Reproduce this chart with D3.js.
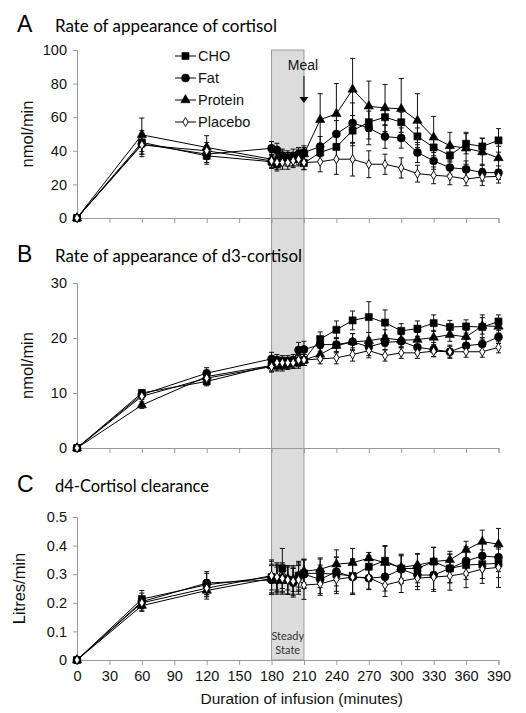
<!DOCTYPE html>
<html><head><meta charset="utf-8">
<script src="https://cdn.jsdelivr.net/npm/d3@7"></script>
<style>body{margin:0;background:#fff}svg{display:block}</style>
</head><body>
<script>
// ---- data ----
const times = [0,60,120,180,185,190,195,200,205,210,225,240,255,270,285,300,315,330,345,360,375,390];
const seriesNames = ["CHO","Fat","Protein","Placebo"];
const xTicks = [0,30,60,90,120,150,180,210,240,270,300,330,360,390];

// Panel A: rate of appearance of cortisol (nmol/min)
const aCHO     = [0,45,37,33.5,32,35,35,35,36,32.7,39,42.3,52,57,60,57,48.6,42,37.3,44.2,42.6,46.2];
const aFat     = [0,44,38,41.5,40.5,37,36,37,38,39,42.5,50,56.5,53.6,48.5,47.6,39,34,30,29,27,27];
const aProtein = [0,49.5,42,35,34,36,35,35,37,38,58.5,62,76.5,66.5,65.5,65,58,48,43,41.5,39.3,35.7];
const aPlacebo = [0,43.5,40,34,33,33,33,34,35,33,33.5,35,35,32,32,29.8,26.4,25.4,24.8,23.2,24.4,24.8];
const aCHOse     = [0,7,5,4,4,4,4,4,4,4,5,8,9,10,5,6,5,5,4,6,5,7];
const aFatse     = [0,6,5,4,4,4,4,4,4,4,6,8,12,10,7,6,6,5,4,5,5,4];
const aProteinse = [0,10,7,4,4,4,4,4,4,4,15.5,18,18.5,15,14,18,16,12.5,8,9.5,8,7];
const aPlacebose = [0,7,5,4,4,4,4,4,4,4,6,9,10,8,6,6,5,5,5,4,5,4];
const aTicks = [0,20,40,60,80,100];

// Panel B: rate of appearance of d3-cortisol (nmol/min)
const bCHO     = [0,10,12.1,15,15,15.3,15.3,15.5,15.8,16,19.8,21.5,23.2,23.8,22.8,21.3,21.7,22.7,22,22.1,22,23];
const bFat     = [0,9.7,13.6,16.2,16,15.8,15.8,16,17.8,17.9,18.8,18.8,19.3,18.4,19.2,19.4,18.3,17.9,17.5,18.6,18.9,20.2];
const bProtein = [0,7.8,13,15,15.2,15,15.3,15.5,15.5,16,17,18.6,19.3,19.5,20,19.6,19.7,20.1,20.6,20.2,22.2,22.1];
const bPlacebo = [0,9.4,12.7,14.8,15.5,15.5,15.5,15.5,16,16,16.2,16.4,17,17.7,16.8,17.3,17.3,17.6,17.5,17.5,17.5,18.3];
const bCHOse     = [0,0.6,0.8,1,1,1,1,1,1,1,1.3,1.6,1.7,2.8,2.3,1.3,1.4,1.5,1.2,1.2,2.2,1.2];
const bFatse     = [0,0.6,1.0,1.2,1,1,1,1,1.4,1.5,1.2,1.3,1.5,1.6,1.3,1.2,1.2,1.3,1.2,1.2,1.2,1.2];
const bProteinse = [0,0.6,0.9,1,1,1,1,1,1,1,1.1,1.3,1.5,1.5,1.5,1.2,1.3,1.3,1.2,1.2,1.5,1.2];
const bPlacebose = [0,0.6,0.8,1,1,1,1,1,1,1,0.9,1.1,1.2,1.3,1,1,1,1,1,1,1,1];
const bTicks = [0,10,20,30];

// Panel C: d4-cortisol clearance (Litres/min)
const cCHO     = [0,0.213,0.263,0.29,0.285,0.32,0.28,0.28,0.295,0.303,0.303,0.30,0.294,0.326,0.347,0.32,0.32,0.344,0.32,0.332,0.335,0.338];
const cFat     = [0,0.204,0.269,0.28,0.28,0.28,0.28,0.27,0.29,0.30,0.282,0.309,0.29,0.286,0.291,0.317,0.297,0.297,0.32,0.346,0.364,0.359];
const cProtein = [0,0.19,0.243,0.285,0.285,0.29,0.285,0.28,0.295,0.31,0.317,0.335,0.34,0.356,0.34,0.324,0.332,0.344,0.35,0.385,0.414,0.405];
const cPlacebo = [0,0.2,0.251,0.295,0.29,0.285,0.28,0.275,0.28,0.262,0.266,0.282,0.29,0.288,0.262,0.276,0.286,0.29,0.294,0.303,0.318,0.324];
const cCHOse     = [0,0.03,0.04,0.06,0.05,0.07,0.05,0.05,0.05,0.05,0.05,0.06,0.06,0.04,0.05,0.05,0.05,0.05,0.05,0.05,0.05,0.05];
const cFatse     = [0,0.03,0.04,0.05,0.05,0.05,0.05,0.05,0.05,0.05,0.05,0.05,0.06,0.04,0.05,0.05,0.04,0.05,0.05,0.05,0.05,0.05];
const cProteinse = [0,0.02,0.03,0.05,0.04,0.05,0.04,0.04,0.04,0.04,0.04,0.05,0.05,0.02,0.06,0.04,0.04,0.05,0.03,0.03,0.04,0.055];
const cPlacebose = [0,0.02,0.03,0.05,0.05,0.05,0.05,0.05,0.05,0.05,0.04,0.05,0.06,0.04,0.04,0.04,0.04,0.05,0.05,0.05,0.05,0.07];
const cTicks = [0,0.1,0.2,0.3,0.4,0.5];

const steadyState = [180,210];
const mealTime = 210;

// ---- layout ----
const W = 526, H = 713;
const svg = d3.select("body").append("svg").attr("width",W).attr("height",H);
const x = d3.scaleLinear().domain([0,390]).range([77,498.5]);
const numFont = "Arial, 'Liberation Sans', Helvetica, sans-serif";
const titleFont = "Lato, 'Open Sans', sans-serif";

const panels = [
  {letter:"A", title:"Rate of appearance of cortisol", titleW:222, base:32, top:50, bottom:218, max:100, ticks:aTicks, fmt:d3.format("d"), ylab:"nmol/min", ylabX:33,
   vals:[aCHO,aFat,aProtein,aPlacebo], se:[aCHOse,aFatse,aProteinse,aPlacebose]},
  {letter:"B", title:"Rate of appearance of d3-cortisol", titleW:247, base:262, top:283, bottom:448, max:30, ticks:bTicks, fmt:d3.format("d"), ylab:"nmol/min", ylabX:33,
   vals:[bCHO,bFat,bProtein,bPlacebo], se:[bCHOse,bFatse,bProteinse,bPlacebose]},
  {letter:"C", title:"d4-Cortisol clearance", titleW:154, base:492, top:517, bottom:660, max:0.5, ticks:cTicks, fmt:d=>d===0?"0":d3.format(".1f")(d), ylab:"Litres/min", ylabX:25,
   vals:[cCHO,cFat,cProtein,cPlacebo], se:[cCHOse,cFatse,cProteinse,cPlacebose], xlabels:true}
];

// steady state band across all panels
svg.append("rect")
  .attr("x", x(steadyState[0])).attr("width", x(steadyState[1])-x(steadyState[0]))
  .attr("y", panels[0].top).attr("height", panels[2].bottom - panels[0].top)
  .attr("fill","#dcdcdc").attr("stroke","#9a9a9a").attr("stroke-width",1);

const sym = {
  CHO: d3.symbol().type(d3.symbolSquare).size(50),
  Fat: d3.symbol().type(d3.symbolCircle).size(50),
  Protein: d3.symbol().type(d3.symbolTriangle).size(38),
  Placebo: d3.symbol().type(d3.symbolDiamond).size(24)
};
function drawMarker(g, name, cx, cy){
  g.append("path").attr("d", sym[name]())
    .attr("transform",`translate(${cx},${cy})`)
    .attr("fill", name==="Placebo" ? "#fff" : "#000")
    .attr("stroke","#000").attr("stroke-width", name==="Placebo"?0.9:0.6);
}

panels.forEach(p => {
  const y = d3.scaleLinear().domain([0,p.max]).range([p.bottom,p.top]);
  const g = svg.append("g");

  // axes
  const ya = g.append("g").attr("transform",`translate(${x(0)},0)`)
    .call(d3.axisLeft(y).tickValues(p.ticks).tickFormat(p.fmt).tickSize(4).tickPadding(6));
  const xa = g.append("g").attr("transform",`translate(0,${y(0)})`)
    .call(d3.axisBottom(x).tickValues(xTicks).tickSize(5).tickPadding(6).tickFormat(p.xlabels? d3.format("d") : ""));
  [ya,xa].forEach(a => {
    a.attr("font-family",numFont).attr("font-size",14.5);
    a.select(".domain").attr("stroke","#9a9a9a");
    a.selectAll(".tick line").attr("stroke","#9a9a9a");
    a.selectAll("text").attr("font-family",numFont).attr("font-size",14.5).attr("fill","#111");
  });

  // series
  seriesNames.forEach((name,si) => {
    const pts = times.map((t,i)=>({t, v:p.vals[si][i], e:p.se[si][i]}));
    g.append("path").datum(pts)
      .attr("d", d3.line().x(d=>x(d.t)).y(d=>y(d.v)))
      .attr("fill","none").attr("stroke","#000").attr("stroke-width",1);
    const eb = g.append("g").attr("stroke","#111").attr("stroke-width",1);
    pts.filter(d=>d.e>0).forEach(d => {
      const cx = x(d.t), y1 = y(d.v+d.e), y2 = y(Math.max(0,d.v-d.e));
      eb.append("line").attr("x1",cx).attr("x2",cx).attr("y1",y1).attr("y2",y2);
      eb.append("line").attr("x1",cx-2.5).attr("x2",cx+2.5).attr("y1",y1).attr("y2",y1);
      eb.append("line").attr("x1",cx-2.5).attr("x2",cx+2.5).attr("y1",y2).attr("y2",y2);
    });
  });
  seriesNames.forEach((name,si) => {
    times.forEach((t,i) => drawMarker(g, name, x(t), y(p.vals[si][i])));
  });

  // titles
  svg.append("text").attr("x",17).attr("y",p.base).text(p.letter)
    .attr("font-family",numFont).attr("font-size",23).attr("fill","#000");
  svg.append("text").attr("x",55).attr("y",p.base).text(p.title)
    .attr("font-family",titleFont).attr("font-size",17).attr("fill","#000")
    .attr("textLength",p.titleW).attr("lengthAdjust","spacingAndGlyphs");

  // y label
  svg.append("text").attr("transform",`translate(${p.ylabX},${(p.top+p.bottom)/2}) rotate(-90)`)
    .attr("text-anchor","middle").text(p.ylab)
    .attr("font-family",numFont).attr("font-size",16.5).attr("fill","#111");

  if (p.letter==="A") {
    // legend
    const lg = svg.append("g");
    seriesNames.forEach((name,i) => {
      const ly = 56 + i*22;
      lg.append("line").attr("x1",175).attr("x2",196).attr("y1",ly).attr("y2",ly).attr("stroke","#000");
      drawMarker(lg, name, 185.5, ly);
      lg.append("text").attr("x",198).attr("y",ly+5).text(name)
        .attr("font-family",numFont).attr("font-size",14.5).attr("fill","#111");
    });
    // meal arrow
    svg.append("text").attr("x",x(mealTime)-1).attr("y",70).attr("text-anchor","middle").text("Meal")
      .attr("font-family",numFont).attr("font-size",14).attr("fill","#111");
    const ax = x(mealTime);
    svg.append("line").attr("x1",ax).attr("x2",ax).attr("y1",76).attr("y2",98).attr("stroke","#000");
    svg.append("path").attr("d",`M${ax-4.5},97 L${ax+4.5},97 L${ax},103 Z`).attr("fill","#000");
  }
  if (p.xlabels) {
    svg.append("text").attr("x",(x(0)+x(390))/2+14).attr("y",704).attr("text-anchor","middle")
      .text("Duration of infusion (minutes)")
      .attr("font-family",numFont).attr("font-size",15.5).attr("fill","#111");
    const mid = (x(steadyState[0])+x(steadyState[1]))/2;
    ["Steady","State"].forEach((s,i) => {
      svg.append("text").attr("x",mid).attr("y",640+i*14).attr("text-anchor","middle").text(s)
        .attr("font-family",titleFont).attr("font-size",11).attr("fill","#333");
    });
  }
});
</script>
</body></html>
